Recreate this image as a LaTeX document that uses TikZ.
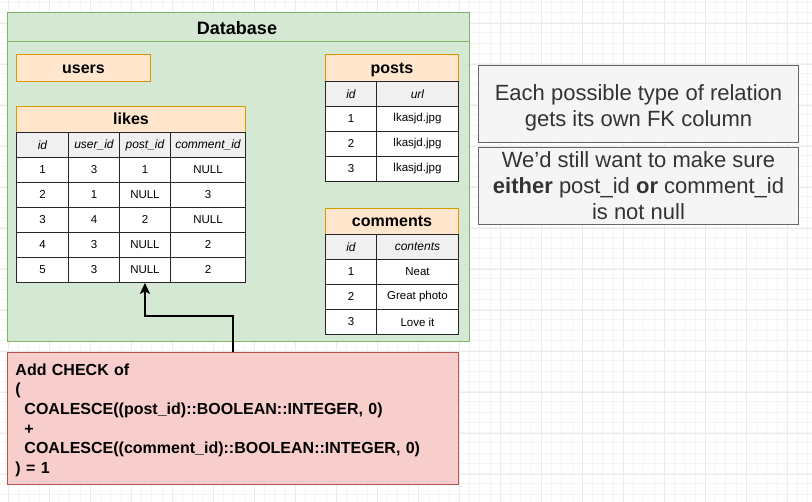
\documentclass[tikz,border=0pt]{standalone}
\usepackage{fontspec}
\setmainfont{Liberation Sans}
\usetikzlibrary{arrows.meta}
\definecolor{dbfill}{HTML}{D5E8D4}
\definecolor{dbline}{HTML}{82B366}
\definecolor{hdfill}{HTML}{FFE6CC}
\definecolor{hdline}{HTML}{D79B00}
\definecolor{colfill}{HTML}{F0F0F0}
\definecolor{notefill}{HTML}{F5F5F5}
\definecolor{noteline}{HTML}{666666}
\definecolor{notetext}{HTML}{333333}
\definecolor{chkfill}{HTML}{F8CECC}
\definecolor{chkline}{HTML}{B85450}
\tikzset{
dbframe/.style={draw=dbline,fill=dbfill,line width=1pt,anchor=north west,inner sep=0pt},
tbltitle/.style={draw=hdline,fill=hdfill,line width=1pt,anchor=north west,inner sep=0pt,text height=11pt,text depth=0pt,font=\fontsize{16}{16}\selectfont\bfseries},
cell/.style={draw=black!85,fill=white,line width=0.9pt,anchor=north west,inner sep=0pt,minimum height=25pt,font=\fontsize{11.5}{12}\selectfont},
colhead/.style={cell,fill=colfill,font=\fontsize{12}{12}\selectfont\itshape},
note/.style={draw=noteline,fill=notefill,line width=1pt,text=notetext,align=center,anchor=north west,inner sep=0pt,minimum width=320pt,minimum height=77pt,font=\fontsize{22}{26}\selectfont},
checkbox/.style={draw=chkline,fill=chkfill,line width=1pt,anchor=north west,inner xsep=8pt,inner ysep=0pt,text width=435pt,minimum height=132pt,align=left,font=\fontsize{16}{19.6}\selectfont\bfseries},
link/.style={line width=2pt,-{Stealth[length=11pt,width=10pt,inset=2.5pt]}}
}
\begin{document}
\begin{tikzpicture}[x=1pt,y=-1pt]
\newcommand\likesrow[7]{
\foreach \x/\w/\v/\c in {16/52/#4/id,68/51/#5/user,119/51/#6/post,170/75/#7/comment}
\node[#1,minimum width=\w pt] (likes#2\c) at (\x,#3) {\v};
}
\newcommand\pairrow[5]{
\foreach \x/\w/\v/\c in {325/51/#4/id,376/82/#5/val}
\node[#1,minimum width=\w pt] (#2\c) at (\x,#3) {\v};
}
\useasboundingbox[fill=white] (0,0) rectangle (812,502);
\draw[black!4,line width=0.5pt,shift={(8,2)}] (-8,-2) grid[step=10.25pt] (812,502);
\draw[black!8,line width=0.6pt,shift={(8,23)}] (-8,-23) grid[step=41pt] (812,502);
\node[dbframe,minimum width=462pt,minimum height=329pt] (db) at (7,12) {};
\draw[dbline,line width=1pt] (db.west |- 0,42) -- (db.east |- 0,42);
\node[font=\fontsize{18}{18}\selectfont\bfseries] (dbtitle) at (237,28) {Database};
\node[tbltitle,minimum width=134pt,minimum height=27pt] (users) at (16,54) {users};
\node[tbltitle,minimum width=229pt,minimum height=26pt] (likes) at (16,106) {likes};
\likesrow{colhead}{h}{132}{id}{user\_id}{post\_id}{comment\_id}
\likesrow{cell}{1}{157}{1}{3}{1}{NULL}
\likesrow{cell}{2}{182}{2}{1}{NULL}{3}
\likesrow{cell}{3}{207}{3}{4}{2}{NULL}
\likesrow{cell}{4}{232}{4}{3}{NULL}{2}
\likesrow{cell}{5}{257}{5}{3}{NULL}{2}
\node[tbltitle,minimum width=133pt,minimum height=27pt] (posts) at (325,54) {posts};
\pairrow{colhead}{postsh}{81}{id}{url}
\pairrow{cell}{posts1}{106}{1}{lkasjd.jpg}
\pairrow{cell}{posts2}{131}{2}{lkasjd.jpg}
\pairrow{cell}{posts3}{156}{3}{lkasjd.jpg}
\node[tbltitle,minimum width=133pt,minimum height=26pt] (comments) at (325,208) {comments};
\pairrow{colhead}{commentsh}{234}{id}{contents}
\pairrow{cell}{comments1}{259}{1}{Neat}
\pairrow{cell}{comments2}{284}{2}{Great photo}
\pairrow{cell}{comments3}{309}{3}{Love it}
\node[note] (relnote) at (478,65) {\rule{0pt}{24pt}Each possible type of relation\\gets its own FK column};
\node[note] (nullnote) at (478,147) {We'd still want to make sure\\\textbf{either} post\_id \textbf{or} comment\_id\\is not null};
\node[checkbox] (check) at (7,352) {\rule{0pt}{15pt}Add CHECK of\\(\\\hspace*{9pt}COALESCE((post\_id)::BOOLEAN::INTEGER, 0)\\\hspace*{9pt}+\\\hspace*{9pt}COALESCE((comment\_id)::BOOLEAN::INTEGER, 0)\\) = 1};
\coordinate (bend) at (145,316);
\draw[link] (check.north) -- (check.north |- bend) -| (likes5post.south);
\end{tikzpicture}
\end{document}
